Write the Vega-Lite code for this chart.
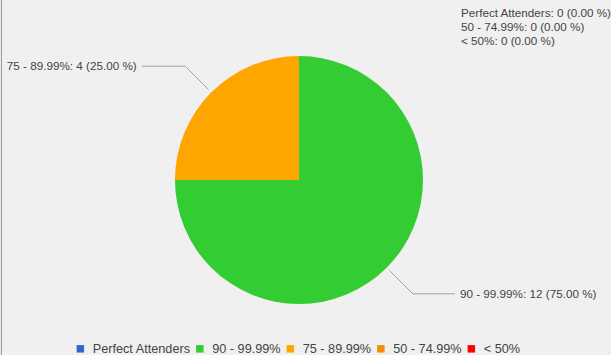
{
  "$schema": "https://vega.github.io/schema/vega-lite/v6.json",
  "width": 611,
  "height": 355,
  "padding": 0,
  "autosize": {"type": "none"},
  "background": "#f0f0f0",
  "config": {"view": {"stroke": null}, "font": "Liberation Sans"},
  "datasets": {
    "att": [
      {"idx": 0, "label": "Perfect Attenders", "value": 0},
      {"idx": 1, "label": "90 - 99.99%", "value": 12},
      {"idx": 2, "label": "75 - 89.99%", "value": 4},
      {"idx": 3, "label": "50 - 74.99%", "value": 0},
      {"idx": 4, "label": "< 50%", "value": 0}
    ]
  },
  "data": {"name": "att"},
  "layer": [
    {
      "mark": {"type": "rule", "color": "#9a9a9a", "strokeWidth": 1},
      "encoding": {
        "x": {"datum": -2.399, "type": "quantitative", "scale": {"domain": [-2.411, 2.516], "nice": false, "zero": false}, "axis": null}
      }
    },
    {
      "mark": {"type": "arc", "outerRadius": 124},
      "encoding": {
        "x": {"datum": 0, "type": "quantitative", "scale": {"domain": [-2.411, 2.516], "nice": false, "zero": false}, "axis": null},
        "y": {"datum": 0, "type": "quantitative", "scale": {"domain": [-1.411, 1.4516], "nice": false, "zero": false}, "axis": null},
        "theta": {"field": "value", "type": "quantitative", "stack": true},
        "order": {"field": "idx", "type": "quantitative"},
        "color": {
          "field": "label",
          "type": "nominal",
          "scale": {
            "domain": ["Perfect Attenders", "90 - 99.99%", "75 - 89.99%", "50 - 74.99%", "< 50%"],
            "range": ["#3366cc", "#33cc33", "#ffa500", "#f28c0f", "#ff0000"]
          },
          "legend": {
            "orient": "none",
            "legendX": 74,
            "legendY": 342,
            "direction": "horizontal",
            "title": null,
            "symbolType": "square",
            "symbolSize": 56,
            "symbolStrokeWidth": 0,
            "symbolOpacity": 1,
            "labelFont": "Liberation Sans",
            "labelFontSize": 12.7,
            "labelColor": "#444444",
            "labelOffset": 6,
            "columnPadding": 2.5
          }
        }
      }
    },
    {
      "transform": [
        {"joinaggregate": [{"op": "sum", "field": "value", "as": "total"}]},
        {"window": [{"op": "sum", "field": "value", "as": "cum"}], "sort": [{"field": "idx"}]},
        {"filter": "datum.value > 0"},
        {"calculate": "2*PI*(datum.cum - datum.value/2)/datum.total", "as": "ang"},
        {"calculate": "1.032*sin(datum.ang)", "as": "p0x"},
        {"calculate": "1.032*cos(datum.ang)", "as": "p0y"},
        {"calculate": "1.298*sin(datum.ang)", "as": "p1x"},
        {"calculate": "1.298*cos(datum.ang)", "as": "p1y"}
      ],
      "mark": {"type": "rule", "color": "#a0a0a0", "strokeWidth": 1},
      "encoding": {
        "x": {"field": "p0x", "type": "quantitative", "scale": {"domain": [-2.411, 2.516], "nice": false, "zero": false}, "axis": null},
        "y": {"field": "p0y", "type": "quantitative", "scale": {"domain": [-1.411, 1.4516], "nice": false, "zero": false}, "axis": null},
        "x2": {"field": "p1x"},
        "y2": {"field": "p1y"}
      }
    },
    {
      "transform": [
        {"joinaggregate": [{"op": "sum", "field": "value", "as": "total"}]},
        {"window": [{"op": "sum", "field": "value", "as": "cum"}], "sort": [{"field": "idx"}]},
        {"filter": "datum.value > 0"},
        {"calculate": "2*PI*(datum.cum - datum.value/2)/datum.total", "as": "ang"},
        {"calculate": "1.298*sin(datum.ang)", "as": "p1x"},
        {"calculate": "1.298*cos(datum.ang)", "as": "p1y"},
        {"calculate": "datum.p1x + (sin(datum.ang) < 0 ? -0.35 : 0.34)", "as": "p2x"}
      ],
      "mark": {"type": "rule", "color": "#a0a0a0", "strokeWidth": 1},
      "encoding": {
        "x": {"field": "p1x", "type": "quantitative", "scale": {"domain": [-2.411, 2.516], "nice": false, "zero": false}, "axis": null},
        "y": {"field": "p1y", "type": "quantitative", "scale": {"domain": [-1.411, 1.4516], "nice": false, "zero": false}, "axis": null},
        "x2": {"field": "p2x"},
        "y2": {"field": "p1y"}
      }
    },
    {
      "transform": [
        {"joinaggregate": [{"op": "sum", "field": "value", "as": "total"}]},
        {"window": [{"op": "sum", "field": "value", "as": "cum"}], "sort": [{"field": "idx"}]},
        {"filter": "datum.value > 0"},
        {"calculate": "2*PI*(datum.cum - datum.value/2)/datum.total", "as": "ang"},
        {"filter": "sin(datum.ang) < 0"},
        {"calculate": "1.298*sin(datum.ang) - 0.35", "as": "p2x"},
        {"calculate": "1.298*cos(datum.ang)", "as": "p1y"},
        {"calculate": "datum.label + ': ' + datum.value + ' (' + format(100*datum.value/datum.total, '.2f') + ' %)'", "as": "txt"}
      ],
      "mark": {"type": "text", "align": "right", "baseline": "middle", "dx": -5, "font": "Liberation Sans", "fontSize": 11.7, "color": "#444444"},
      "encoding": {
        "x": {"field": "p2x", "type": "quantitative", "scale": {"domain": [-2.411, 2.516], "nice": false, "zero": false}, "axis": null},
        "y": {"field": "p1y", "type": "quantitative", "scale": {"domain": [-1.411, 1.4516], "nice": false, "zero": false}, "axis": null},
        "text": {"field": "txt"}
      }
    },
    {
      "transform": [
        {"joinaggregate": [{"op": "sum", "field": "value", "as": "total"}]},
        {"window": [{"op": "sum", "field": "value", "as": "cum"}], "sort": [{"field": "idx"}]},
        {"filter": "datum.value > 0"},
        {"calculate": "2*PI*(datum.cum - datum.value/2)/datum.total", "as": "ang"},
        {"filter": "sin(datum.ang) >= 0"},
        {"calculate": "1.298*sin(datum.ang) + 0.34", "as": "p2x"},
        {"calculate": "1.298*cos(datum.ang)", "as": "p1y"},
        {"calculate": "datum.label + ': ' + datum.value + ' (' + format(100*datum.value/datum.total, '.2f') + ' %)'", "as": "txt"}
      ],
      "mark": {"type": "text", "align": "left", "baseline": "middle", "dx": 5, "font": "Liberation Sans", "fontSize": 11.7, "color": "#444444"},
      "encoding": {
        "x": {"field": "p2x", "type": "quantitative", "scale": {"domain": [-2.411, 2.516], "nice": false, "zero": false}, "axis": null},
        "y": {"field": "p1y", "type": "quantitative", "scale": {"domain": [-1.411, 1.4516], "nice": false, "zero": false}, "axis": null},
        "text": {"field": "txt"}
      }
    },
    {
      "transform": [
        {"joinaggregate": [{"op": "sum", "field": "value", "as": "total"}]},
        {"filter": "datum.value == 0"},
        {"window": [{"op": "row_number", "as": "rn"}], "sort": [{"field": "idx"}]},
        {"calculate": "1.306", "as": "zx"},
        {"calculate": "1.4516 - (12.5 + (datum.rn - 1)*14)/124", "as": "zy"},
        {"calculate": "datum.label + ': ' + datum.value + ' (' + format(datum.total > 0 ? 100*datum.value/datum.total : 0, '.2f') + ' %)'", "as": "txt"}
      ],
      "mark": {"type": "text", "align": "left", "baseline": "middle", "font": "Liberation Sans", "fontSize": 11.7, "color": "#444444"},
      "encoding": {
        "x": {"field": "zx", "type": "quantitative", "scale": {"domain": [-2.411, 2.516], "nice": false, "zero": false}, "axis": null},
        "y": {"field": "zy", "type": "quantitative", "scale": {"domain": [-1.411, 1.4516], "nice": false, "zero": false}, "axis": null},
        "text": {"field": "txt"}
      }
    }
  ]
}
